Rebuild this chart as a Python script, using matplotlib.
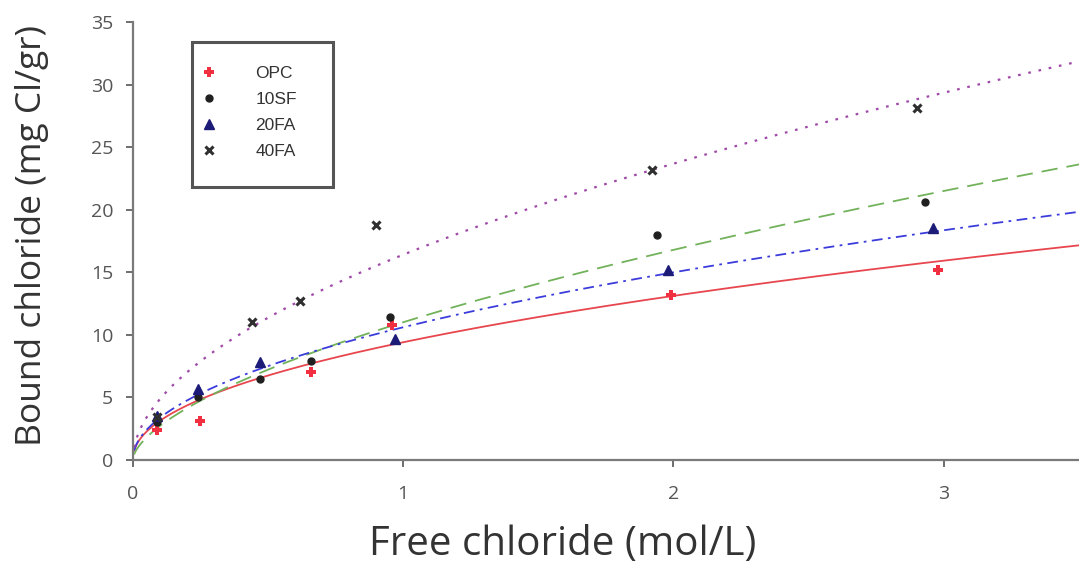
import numpy as np
import matplotlib.pyplot as plt
from matplotlib.patches import Rectangle

# measured points (free chloride mol/L, bound chloride mg Cl/gr)
opc_x = [0.09, 0.25, 0.66, 0.96, 1.99, 2.98]
opc_y = [2.4, 3.1, 7.0, 10.8, 13.2, 15.2]

sf10_x = [0.09, 0.24, 0.47, 0.66, 0.95, 1.94, 2.93]
sf10_y = [3.0, 5.0, 6.5, 7.9, 11.4, 18.0, 20.6]

fa20_x = [0.09, 0.24, 0.47, 0.97, 1.98, 2.96]
fa20_y = [3.5, 5.7, 7.8, 9.7, 15.2, 18.5]

fa40_x = [0.09, 0.44, 0.62, 0.90, 1.92, 2.90]
fa40_y = [3.4, 11.0, 12.7, 18.8, 23.2, 28.1]

# Freundlich fits y = a * x^b
fit_a = [9.4, 11.0, 10.6, 16.4]
fit_b = [0.48, 0.61, 0.50, 0.53]

plt.rcParams['font.family'] = ['Open Sans', 'DejaVu Sans']

W, H = 1079, 567
fig = plt.figure(figsize=(W / 100, H / 100), dpi=100)
ax = fig.add_axes([0.123, 0.189, 0.877, 0.772])

xs = np.linspace(0.005, 3.5, 400)
fit_styles = [
    dict(color='#e8464e', linestyle='-', linewidth=1.3),
    dict(color='#72b25a', linestyle=(0, (9, 5)), linewidth=1.3),
    dict(color='#3c3cdc', linestyle=(0, (6, 3, 1.5, 3)), linewidth=1.3),
    dict(color='#a04aa8', linestyle=(0, (1.2, 3.5)), linewidth=1.6),
]
for a, b, st in zip(fit_a, fit_b, fit_styles):
    ax.plot(xs, a * xs ** b, **st)

ax.plot(opc_x, opc_y, linestyle='none', marker='P', color='#f03040', markersize=7,
        markeredgewidth=0, label='OPC')
ax.plot(sf10_x, sf10_y, linestyle='none', marker='o', color='#202020', markersize=5,
        label='10SF')
ax.plot(fa20_x, fa20_y, linestyle='none', marker='^', color='#1c1c78', markersize=7,
        label='20FA')
ax.plot(fa40_x, fa40_y, linestyle='none', marker='x', color='#303030', markersize=6,
        markeredgewidth=2.2, label='40FA')

ax.set_xlim(0, 3.5)
ax.set_ylim(0, 35)
ax.set_xticks([0, 1, 2, 3])
ax.set_yticks(range(0, 36, 5))

for s in ['top', 'right']:
    ax.spines[s].set_visible(False)
for s in ['left', 'bottom']:
    ax.spines[s].set_color('#7a7a7a')
    ax.spines[s].set_linewidth(1.6)
ax.tick_params(colors='#555555', labelsize=14, length=5, width=1.2, direction='out')
ax.tick_params(axis='x', pad=13)
ax.tick_params(axis='y', pad=9)

fig.text(563 / W, 1 - 545 / H, 'Free chloride (mol/L)', fontsize=29, color='#333333',
         ha='center', va='center')
fig.text(32 / W, 1 - 235 / H, 'Bound chloride (mg Cl/gr)', fontsize=25.5, color='#333333',
         rotation=90, ha='center', va='center')

# legend box drawn by hand, entries placed inside it
fig.patches.append(Rectangle((192 / W, 1 - 187 / H), 141 / W, 145 / H,
                             transform=fig.transFigure, fill=False,
                             edgecolor='#555555', linewidth=2.2))
leg = ax.legend(loc='upper left', bbox_to_anchor=(192 / W, 1 - 57 / H),
                bbox_transform=fig.transFigure, frameon=False,
                prop={'family': 'Liberation Sans', 'size': 12.5},
                borderpad=0, handletextpad=2.15, labelspacing=0.62,
                handlelength=1.0, labelcolor='#333333')

plt.savefig('out.png', dpi=100)
